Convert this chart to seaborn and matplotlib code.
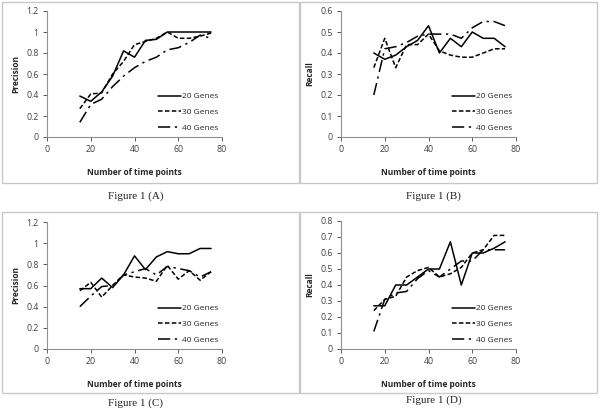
"""Precision / recall versus number of time points, four panels."""

import matplotlib

matplotlib.use("Agg")
import matplotlib.pyplot as plt
import pandas as pd
import seaborn as sns
from matplotlib.patches import Rectangle

TIME_POINTS = [15, 20, 25, 30, 35, 40, 45, 50, 55, 60, 65, 70, 75]
SERIES_NAMES = ["20 Genes", "30 Genes", "40 Genes"]

# Figure 1 (A) precision
A_20 = [0.39, 0.34, 0.43, 0.58, 0.82, 0.76, 0.92, 0.93, 1.00, 1.00, 1.00, 1.00, 1.00]
A_30 = [0.27, 0.41, 0.42, 0.60, 0.72, 0.88, 0.91, 0.94, 1.00, 0.94, 0.94, 0.96, 0.99]
A_40 = [0.14, 0.31, 0.36, 0.48, 0.58, 0.66, 0.72, 0.76, 0.83, 0.85, 0.90, 0.97, 0.94]

# Figure 1 (B) recall
B_20 = [0.40, 0.37, 0.39, 0.43, 0.46, 0.53, 0.40, 0.47, 0.43, 0.50, 0.47, 0.47, 0.43]
B_30 = [0.33, 0.47, 0.33, 0.44, 0.44, 0.49, 0.41, 0.39, 0.38, 0.38, 0.40, 0.42, 0.42]
B_40 = [0.20, 0.42, 0.43, 0.45, 0.48, 0.49, 0.49, 0.49, 0.47, 0.52, 0.55, 0.55, 0.53]

# Figure 1 (C) precision
C_20 = [0.57, 0.57, 0.67, 0.58, 0.70, 0.88, 0.75, 0.87, 0.92, 0.90, 0.90, 0.95, 0.95]
C_30 = [0.55, 0.63, 0.49, 0.60, 0.70, 0.68, 0.67, 0.64, 0.79, 0.66, 0.74, 0.65, 0.73]
C_40 = [0.40, 0.50, 0.59, 0.60, 0.70, 0.73, 0.76, 0.70, 0.78, 0.76, 0.74, 0.68, 0.73]

# Figure 1 (D) recall
D_20 = [0.27, 0.27, 0.40, 0.40, 0.45, 0.50, 0.50, 0.67, 0.40, 0.60, 0.60, 0.63, 0.67]
D_30 = [0.24, 0.31, 0.33, 0.45, 0.49, 0.51, 0.45, 0.47, 0.51, 0.60, 0.62, 0.71, 0.71]
D_40 = [0.11, 0.31, 0.35, 0.36, 0.44, 0.49, 0.45, 0.50, 0.55, 0.55, 0.62, 0.62, 0.62]

PANELS = [
    ("A", "Precision", [A_20, A_30, A_40], 1.2, 0.2),
    ("B", "Recall", [B_20, B_30, B_40], 0.6, 0.1),
    ("C", "Precision", [C_20, C_30, C_40], 1.2, 0.2),
    ("D", "Recall", [D_20, D_30, D_40], 0.8, 0.1),
]

W, H = 600, 418
SANS = ["Open Sans", "DejaVu Sans"]
SERIF = ["Liberation Serif", "DejaVu Serif"]


def long_frame(values: list[list[float]]) -> pd.DataFrame:
    rows = []
    for name, ys in zip(SERIES_NAMES, values):
        for x, y in zip(TIME_POINTS, ys):
            rows.append({"points": x, "value": y, "series": name})
    return pd.DataFrame(rows)


def fx(px: float) -> float:
    return px / W


def fy(py: float) -> float:
    return 1 - py / H


sns.set_theme(style="white")
plt.rcParams["font.family"] = SANS

fig = plt.figure(figsize=(6.0, 4.18), dpi=100)

# pixel layout: (box_left, box_top, axes_left, axes_right, axes_top, axes_bottom, caption_y)
layout = {
    "A": (2, 2, 47, 222, 11, 137, 196),
    "B": (300, 2, 341, 516, 11, 137, 196),
    "C": (2, 212, 47, 222, 222, 349, 403),
    "D": (300, 212, 341, 516, 221, 349, 400),
}

dashes = {"20 Genes": "", "30 Genes": (3, 1.5), "40 Genes": (8, 3, 1.5, 3)}

for letter, ylabel, values, ymax, ystep in PANELS:
    bl, bt, al, ar, at, ab, cy = layout[letter]

    fig.patches.append(
        Rectangle(
            (fx(bl), fy(bt + 181)), fx(297), 181 / H,
            transform=fig.transFigure, fill=False, edgecolor="#c8c8c8", linewidth=1.0,
        )
    )

    ax = fig.add_axes([fx(al), fy(ab), fx(ar - al), (ab - at) / H])
    sns.lineplot(
        data=long_frame(values), x="points", y="value", style="series",
        dashes=dashes, color="black", linewidth=1.1, ax=ax,
    )
    ax.set_xlim(0, 80)
    ax.set_ylim(0, ymax)
    ax.set_xticks(range(0, 81, 20))
    n_steps = int(round(ymax / ystep))
    yticks = [round(i * ystep, 2) for i in range(n_steps + 1)]
    ax.set_yticks(yticks)
    ax.set_yticklabels([f"{t:g}" for t in yticks])
    ax.tick_params(axis="both", direction="out", length=3, width=0.6, labelsize=6.3,
                   colors="#404040", left=True, bottom=True, pad=3)
    for side in ("top", "right"):
        ax.spines[side].set_visible(False)
    for side in ("left", "bottom"):
        ax.spines[side].set_color("#909090")
        ax.spines[side].set_linewidth(0.8)
    ax.set_xlabel("Number of time points", fontsize=6, fontweight="bold", labelpad=10)
    ax.set_ylabel(ylabel, fontsize=6, fontweight="bold", labelpad=4)

    ax.legend(
        frameon=False, fontsize=6, loc="lower right", bbox_to_anchor=(1.01, 0.0),
        handlelength=2.8, handletextpad=0.15, labelspacing=0.95, borderaxespad=0.2,
    )

    fig.text(fx((bl + bl + 297) / 2 - 15), fy(cy), f"Figure 1 ({letter})",
             family=SERIF, fontsize=8, ha="center", va="center", color="#222222")

fig.savefig("out.png", dpi=100)
